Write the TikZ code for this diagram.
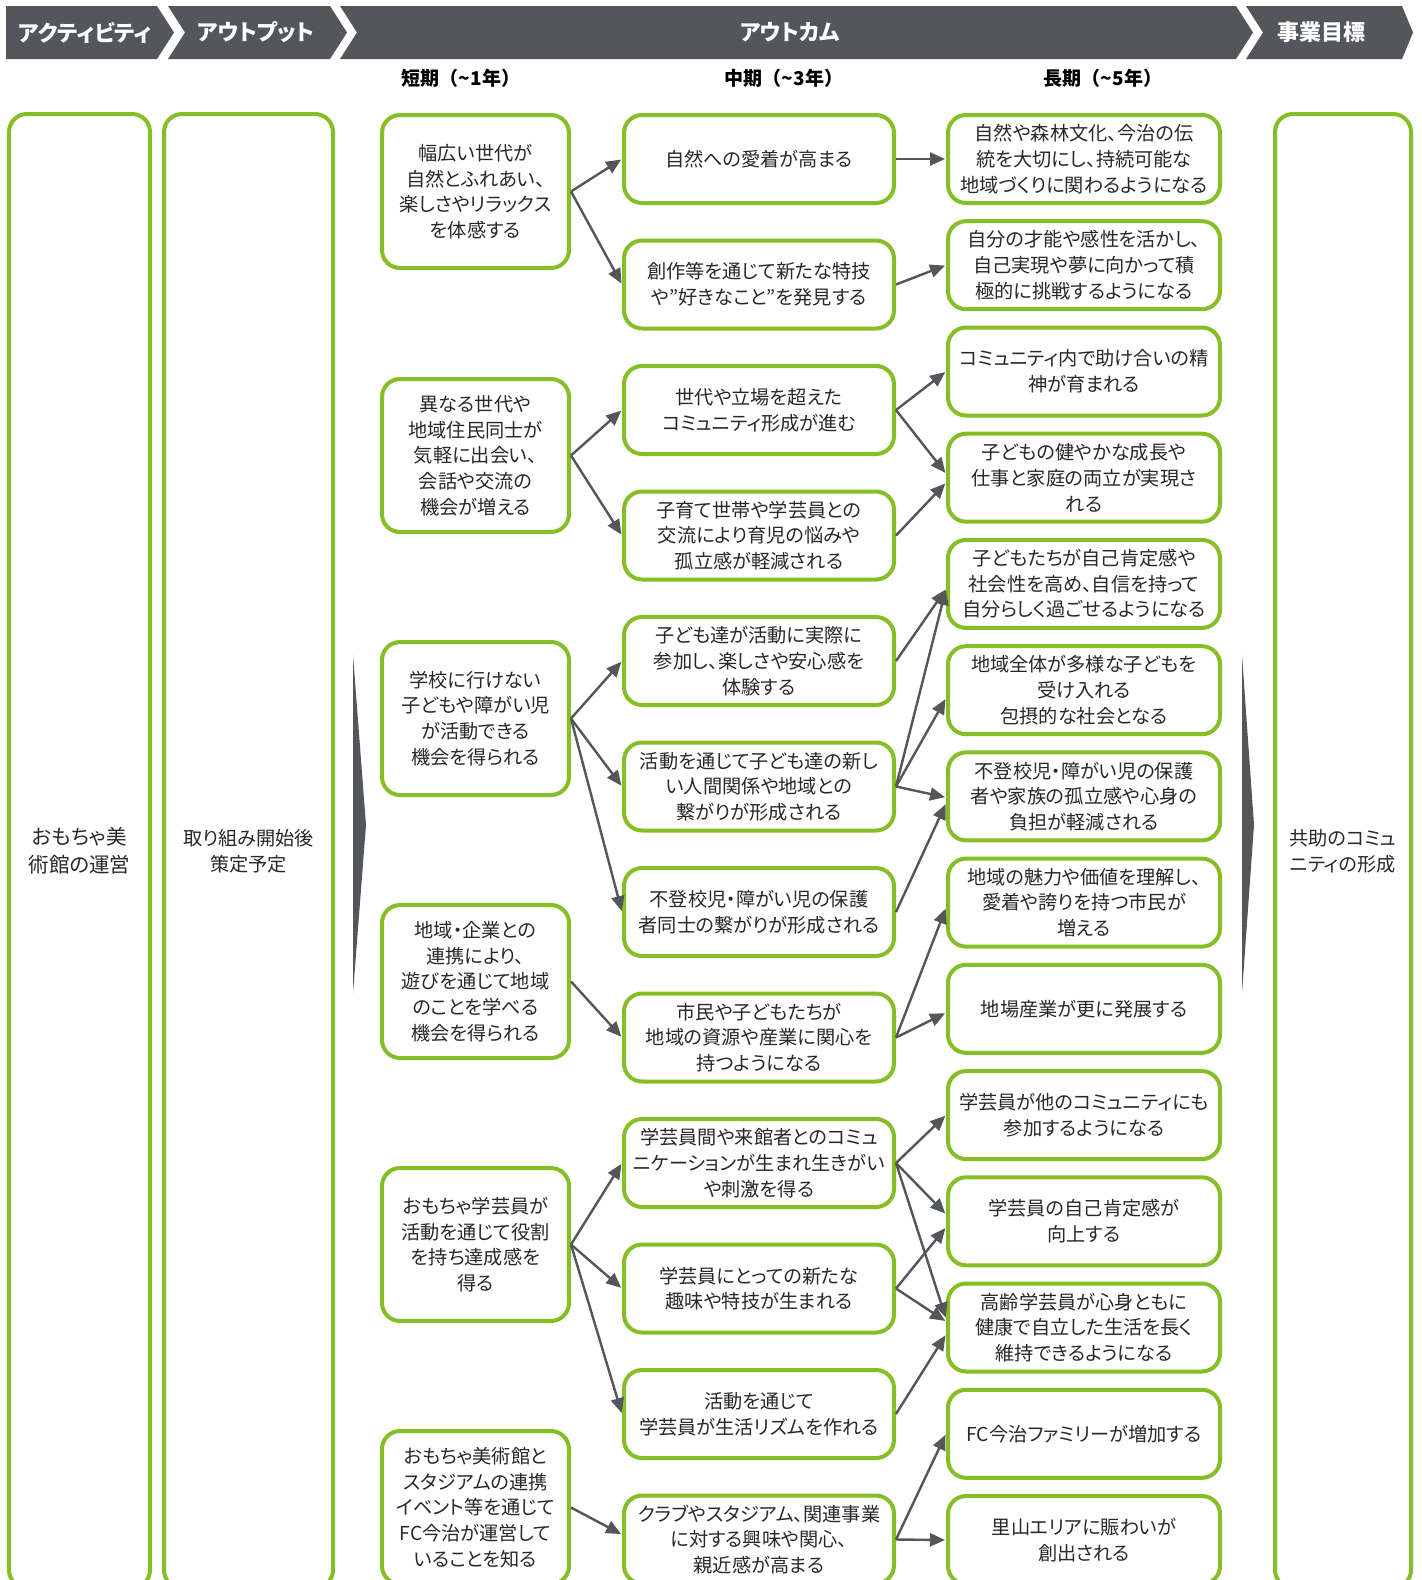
\documentclass[tikz,border=0pt]{standalone}
\usepackage{fontspec}
\setmainfont{Noto Sans CJK JP}[RawFeature=+palt]
\newfontfamily\widejp{Noto Sans CJK JP}
\usetikzlibrary{arrows.meta,calc}

\definecolor{leaf}{RGB}{134,190,38}
\definecolor{slate}{RGB}{83,86,90}
\definecolor{ink}{RGB}{40,40,40}

\tikzset{
  x=1pt, y=-1pt,
  card/.style={draw=leaf, line width=4pt, rounded corners=18pt, fill=white,
    align=center, text=ink, inner sep=0pt, font=\fontsize{19.2}{25.7}\selectfont},
  shortcard/.style={card, minimum width=187pt, minimum height=153pt},
  midcard/.style={card, minimum width=270pt, minimum height=88pt},
  longcard/.style={card, minimum width=272pt, minimum height=88pt},
  tallcard/.style={card, minimum height=1474pt},
  link/.style={draw=slate, line width=2.4pt, shorten >=1pt,
    -{Triangle[length=15pt,width=13pt]}},
  bannertext/.style={text=white, font=\fontsize{22}{24}\selectfont\bfseries},
  termhead/.style={text=black, font=\widejp\fontsize{19}{22}\selectfont\bfseries},
}

\begin{document}
\begin{tikzpicture}
\useasboundingbox (0,0) rectangle (1422,1580);
\fill[white] (0,0) rectangle (1422,1580);
\clip (0,0) rectangle (1422,1580);

% banner chevrons
\fill[slate] (6,6) -- (157,6) -- (174,32.5) -- (157,59) -- (6,59) -- cycle;
\fill[slate] (168,6) -- (330,6) -- (347,32.5) -- (330,59) -- (168,59) -- (185,32.5) -- cycle;
\fill[slate] (340,6) -- (1236,6) -- (1253,32.5) -- (1236,59) -- (340,59) -- (357,32.5) -- cycle;
\fill[slate] (1246,6) -- (1402,6) -- (1413,32.5) -- (1402,59) -- (1246,59) -- (1263,32.5) -- cycle;
\node[bannertext] (hAct)  at (85,32.5)   {アクティビティ};
\node[bannertext] (hOut)  at (256,32.5)  {アウトプット};
\node[bannertext] (hOc)   at (790,32.5)  {アウトカム};
\node[bannertext] (hGoal) at (1321,32.5) {事業目標};

% term headings
\node[termhead] (tShort) at (461,78)  {短期（\textasciitilde 1年）};
\node[termhead] (tMid)   at (784,78)  {中期（\textasciitilde 3年）};
\node[termhead] (tLong)  at (1103,78) {長期（\textasciitilde 5年）};

% tall side columns
\node[tallcard, minimum width=141pt, font=\fontsize{20.5}{28}\selectfont] (act) at (79.5,851) {おもちゃ美\\術館の運営};
\node[tallcard, minimum width=169pt] (outp) at (248.5,851) {取り組み開始後\\策定予定};
\node[tallcard, minimum width=136pt] (goal) at (1343,851) {共助のコミュ\\ニティの形成};

% flow markers
\fill[slate] (353,655) -- (366,825) -- (353,993) -- cycle;
\fill[slate] (1242,655) -- (1254,825) -- (1242,993) -- cycle;

% short-term outcomes
\node[shortcard] (s1) at (475.5,191.5)  {幅広い世代が\\自然とふれあい、\\楽しさやリラックス\\を体感する};
\node[shortcard] (s2) at (475.5,455.5)  {異なる世代や\\地域住民同士が\\気軽に出会い、\\会話や交流の\\機会が増える};
\node[shortcard] (s3) at (475.5,718.5)  {学校に行けない\\子どもや障がい児\\が活動できる\\機会を得られる};
\node[shortcard] (s4) at (475.5,981.5)  {地域・企業との\\連携により、\\遊びを通じて地域\\のことを学べる\\機会を得られる};
\node[shortcard] (s5) at (475.5,1244.5) {おもちゃ学芸員が\\活動を通じて役割\\を持ち達成感を\\得る};
\node[shortcard] (s6) at (475.5,1507.5) {おもちゃ美術館と\\スタジアムの連携\\イベント等を通じて\\FC今治が運営して\\いることを知る};

% mid-term outcomes
\node[midcard] (m1)  at (759,159)    {自然への愛着が高まる};
\node[midcard] (m2)  at (759,284.5)  {創作等を通じて新たな特技\\や”好きなこと”を発見する};
\node[midcard] (m3)  at (759,410)    {世代や立場を超えた\\コミュニティ形成が進む};
\node[midcard] (m4)  at (759,535.5)  {子育て世帯や学芸員との\\交流により育児の悩みや\\孤立感が軽減される};
\node[midcard] (m5)  at (759,661)    {子ども達が活動に実際に\\参加し、楽しさや安心感を\\体験する};
\node[midcard] (m6)  at (759,786.5)  {活動を通じて子ども達の新し\\い人間関係や地域との\\繋がりが形成される};
\node[midcard] (m7)  at (759,912)    {不登校児・障がい児の保護\\者同士の繋がりが形成される};
\node[midcard] (m8)  at (759,1037.5) {市民や子どもたちが\\地域の資源や産業に関心を\\持つようになる};
\node[midcard] (m9)  at (759,1163)   {学芸員間や来館者とのコミュ\\ニケーションが生まれ生きがい\\や刺激を得る};
\node[midcard] (m10) at (759,1288.5) {学芸員にとっての新たな\\趣味や特技が生まれる};
\node[midcard] (m11) at (759,1414)   {活動を通じて\\学芸員が生活リズムを作れる};
\node[midcard] (m12) at (759,1539.5) {クラブやスタジアム、関連事業\\に対する興味や関心、\\親近感が高まる};

% long-term outcomes
\node[longcard] (l1)  at (1084,159)    {自然や森林文化、今治の伝\\統を大切にし、持続可能な\\地域づくりに関わるようになる};
\node[longcard] (l2)  at (1084,265.2)  {自分の才能や感性を活かし、\\自己実現や夢に向かって積\\極的に挑戦するようになる};
\node[longcard] (l3)  at (1084,371.5)  {コミュニティ内で助け合いの精\\神が育まれる};
\node[longcard] (l4)  at (1084,477.7)  {子どもの健やかな成長や\\仕事と家庭の両立が実現さ\\れる};
\node[longcard] (l5)  at (1084,583.9)  {子どもたちが自己肯定感や\\社会性を高め、自信を持って\\自分らしく過ごせるようになる};
\node[longcard] (l6)  at (1084,690.2)  {地域全体が多様な子どもを\\受け入れる\\包摂的な社会となる};
\node[longcard] (l7)  at (1084,796.4)  {不登校児・障がい児の保護\\者や家族の孤立感や心身の\\負担が軽減される};
\node[longcard] (l8)  at (1084,902.6)  {地域の魅力や価値を理解し、\\愛着や誇りを持つ市民が\\増える};
\node[longcard] (l9)  at (1084,1008.8) {地場産業が更に発展する};
\node[longcard] (l10) at (1084,1115.1) {学芸員が他のコミュニティにも\\参加するようになる};
\node[longcard] (l11) at (1084,1221.3) {学芸員の自己肯定感が\\向上する};
\node[longcard] (l12) at (1084,1327.5) {高齢学芸員が心身ともに\\健康で自立した生活を長く\\維持できるようになる};
\node[longcard] (l13) at (1084,1433.8) {FC今治ファミリーが増加する};
\node[longcard] (l14) at (1084,1540)   {里山エリアに賑わいが\\創出される};

% short -> mid
\draw[link] (s1.east) -- (m1.west);
\draw[link] (s1.east) -- (m2.west);
\draw[link] (s2.east) -- (m3.west);
\draw[link] (s2.east) -- (m4.west);
\draw[link] (s3.east) -- (m5.west);
\draw[link] (s3.east) -- (m6.west);
\draw[link] (s3.east) -- (m7.west);
\draw[link] (s4.east) -- (m8.west);
\draw[link] (s5.east) -- (m9.west);
\draw[link] (s5.east) -- (m10.west);
\draw[link] (s5.east) -- (m11.west);
\draw[link] (s6.east) -- ($(m12.west)+(0,-5)$);

% mid -> long
\draw[link] (m1.east) -- (l1.west);
\draw[link] (m2.east) -- (l2.west);
\draw[link] (m3.east) -- (l3.west);
\draw[link] (m3.east) -- ($(l4.west)+(0,-4)$);
\draw[link] (m4.east) -- ($(l4.west)+(0,5)$);
\draw[link] (m5.east) -- ($(l5.west)+(0,5)$);
\draw[link] (m6.east) -- ($(l5.west)+(0,5)$);
\draw[link] (m6.east) -- ($(l6.west)+(0,8)$);
\draw[link] (m6.east) -- ($(l7.west)+(0,1)$);
\draw[link] (m7.east) -- ($(l7.west)+(0,7)$);
\draw[link] (m8.east) -- ($(l8.west)+(0,5)$);
\draw[link] (m8.east) -- ($(l9.west)+(0,4)$);
\draw[link] (m9.east) -- (l10.west);
\draw[link] (m9.east) -- ($(l11.west)+(0,-7)$);
\draw[link] (m9.east) -- ($(l12.west)+(0,-9)$);
\draw[link] (m10.east) -- ($(l11.west)+(0,6)$);
\draw[link] (m10.east) -- ($(l12.west)+(0,-6)$);
\draw[link] (m11.east) -- ($(l12.west)+(0,7)$);
\draw[link] (m12.east) -- (l13.west);
\draw[link] (m12.east) -- (l14.west);
\end{tikzpicture}
\end{document}
